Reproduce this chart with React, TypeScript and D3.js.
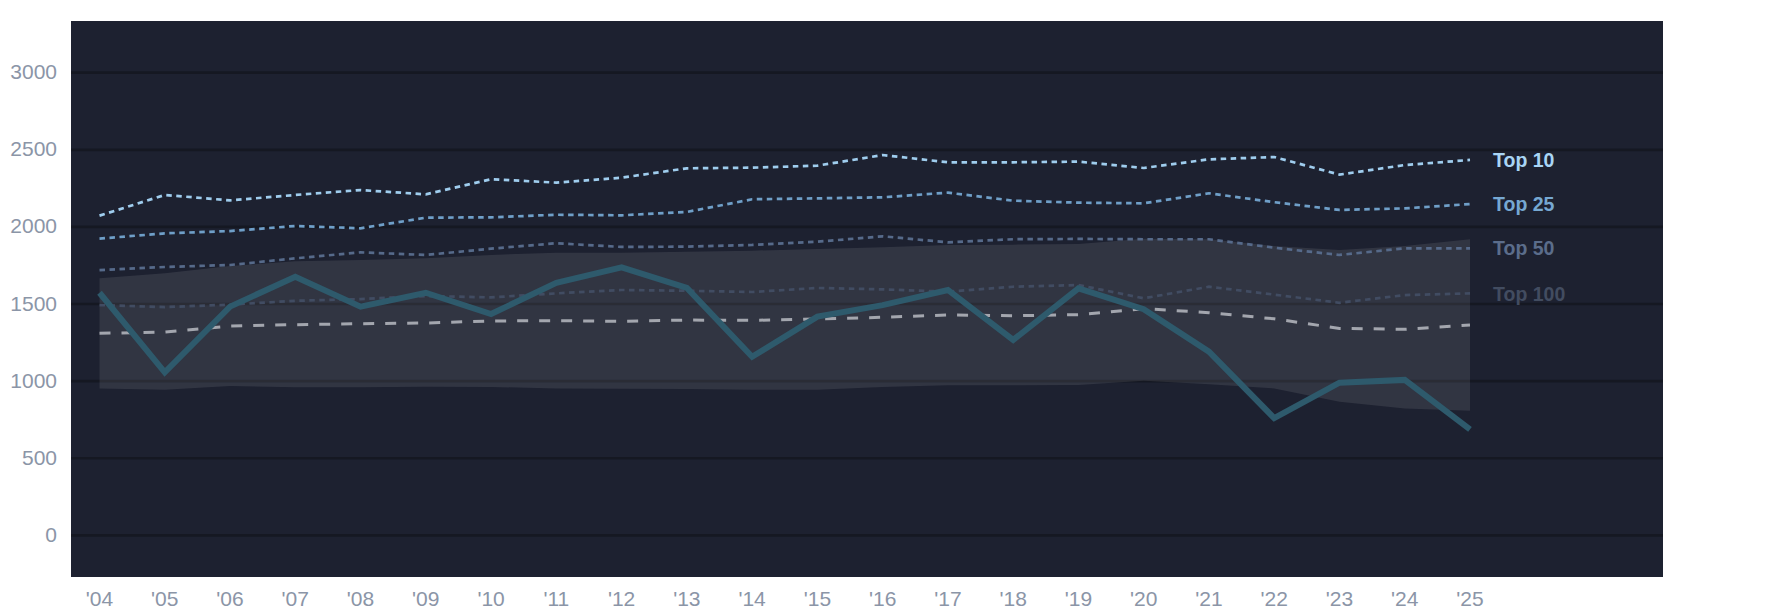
import React from 'react';
import * as d3 from 'd3';

const years = ['04', '05', '06', '07', '08', '09', '10', '11', '12', '13', '14', '15', '16', '17', '18', '19', '20', '21', '22', '23', '24', '25'];

const top10 = [2073, 2207, 2172, 2207, 2239, 2211, 2309, 2287, 2319, 2380, 2384, 2397, 2466, 2419, 2419, 2423, 2382, 2438, 2453, 2339, 2401, 2434];
const top25 = [1924, 1958, 1973, 2006, 1991, 2060, 2062, 2079, 2075, 2097, 2179, 2185, 2192, 2222, 2170, 2157, 2153, 2218, 2160, 2110, 2120, 2148];
const top50 = [1720, 1740, 1753, 1796, 1835, 1818, 1859, 1894, 1870, 1872, 1883, 1904, 1939, 1900, 1920, 1922, 1920, 1920, 1865, 1818, 1861, 1861];
const top100 = [1493, 1480, 1496, 1521, 1532, 1552, 1543, 1569, 1591, 1586, 1578, 1604, 1595, 1580, 1612, 1623, 1537, 1612, 1561, 1508, 1558, 1569];
const median = [1310, 1318, 1357, 1366, 1372, 1377, 1390, 1392, 1388, 1396, 1394, 1403, 1414, 1429, 1424, 1431, 1470, 1444, 1404, 1342, 1336, 1364];
const bandHigh = [1667, 1699, 1746, 1777, 1785, 1796, 1818, 1833, 1833, 1839, 1846, 1857, 1868, 1883, 1885, 1889, 1923, 1920, 1876, 1850, 1876, 1920];
const bandLow = [953, 944, 968, 960, 960, 964, 962, 953, 951, 949, 944, 944, 962, 973, 973, 975, 1003, 979, 953, 867, 823, 808];
const main = [1573, 1057, 1483, 1677, 1483, 1573, 1435, 1638, 1738, 1604, 1158, 1418, 1493, 1591, 1267, 1602, 1466, 1191, 760, 990, 1008, 687];

const yTicks = [0, 500, 1000, 1500, 2000, 2500, 3000];

const tiers = [
  { name: 'Top 100', values: top100, line: '#414c62', label: '#424c60' },
  { name: 'Top 50', values: top50, line: '#566a8a', label: '#5b6d8b' },
  { name: 'Top 25', values: top25, line: '#6f9fc8', label: '#76a8d2' },
  { name: 'Top 10', values: top10, line: '#9fcdee', label: '#a9d5f5' },
];

const W = 1785;
const H = 614;
const panel = { left: 71, top: 21, right: 1663, bottom: 577 };
const font = '"Liberation Sans", Arial, sans-serif';

const App = () => {
  const x = d3.scaleLinear().domain([0, years.length - 1]).range([99.5, 1470]);
  const y = d3.scaleLinear().domain([-270, 3335]).range([panel.bottom, panel.top]);

  const line = d3.line<number>().x((d, i) => x(i)).y(d => y(d));
  const band = d3.area<number>()
    .x((d, i) => x(i))
    .y0((d, i) => y(bandLow[i]))
    .y1(d => y(d));

  const last = years.length - 1;

  return (
    <div style={{ position: 'absolute', left: 0, top: 0 }}>
      <svg width={W} height={H} style={{ display: 'block', background: '#fff' }}>
        <rect x={panel.left} y={panel.top} width={panel.right - panel.left} height={panel.bottom - panel.top} fill='#1d2130' />

        <g>
          {yTicks.map(t => (
            <g key={t}>
              <line x1={panel.left} x2={panel.right} y1={y(t)} y2={y(t)} stroke='#151822' strokeWidth={2.7} />
              <text x={57} y={y(t)} dy={1} textAnchor='end' dominantBaseline='middle' fontFamily={font} fontSize={21} fill='#8b95a7'>{t}</text>
            </g>
          ))}
        </g>

        <path d={band(bandHigh) || ''} fill='#ffffff' fillOpacity={0.09} />

        {tiers.map(s => (
          <path key={s.name} d={line(s.values) || ''} fill='none' stroke={s.line} strokeWidth={2.7} strokeDasharray='5.5 4.5' />
        ))}

        <path d={line(median) || ''} fill='none' stroke='#a3a6ae' strokeWidth={3} strokeDasharray='11 11' />

        <path d={line(main) || ''} fill='none' stroke='#2e5a6c' strokeWidth={6} strokeLinejoin='miter' />

        {tiers.map(s => (
          <text key={s.name} x={x(last) + 23} y={y(s.values[last])} dy={2} dominantBaseline='middle' fontFamily={font} fontSize={19.5} fontWeight='bold' fill={s.label}>{s.name}</text>
        ))}

        {years.map((yr, i) => (
          <text key={yr} x={x(i)} y={606} textAnchor='middle' fontFamily={font} fontSize={21} fill='#8b95a7'>{"'" + yr}</text>
        ))}
      </svg>
    </div>
  );
};

export default App;
